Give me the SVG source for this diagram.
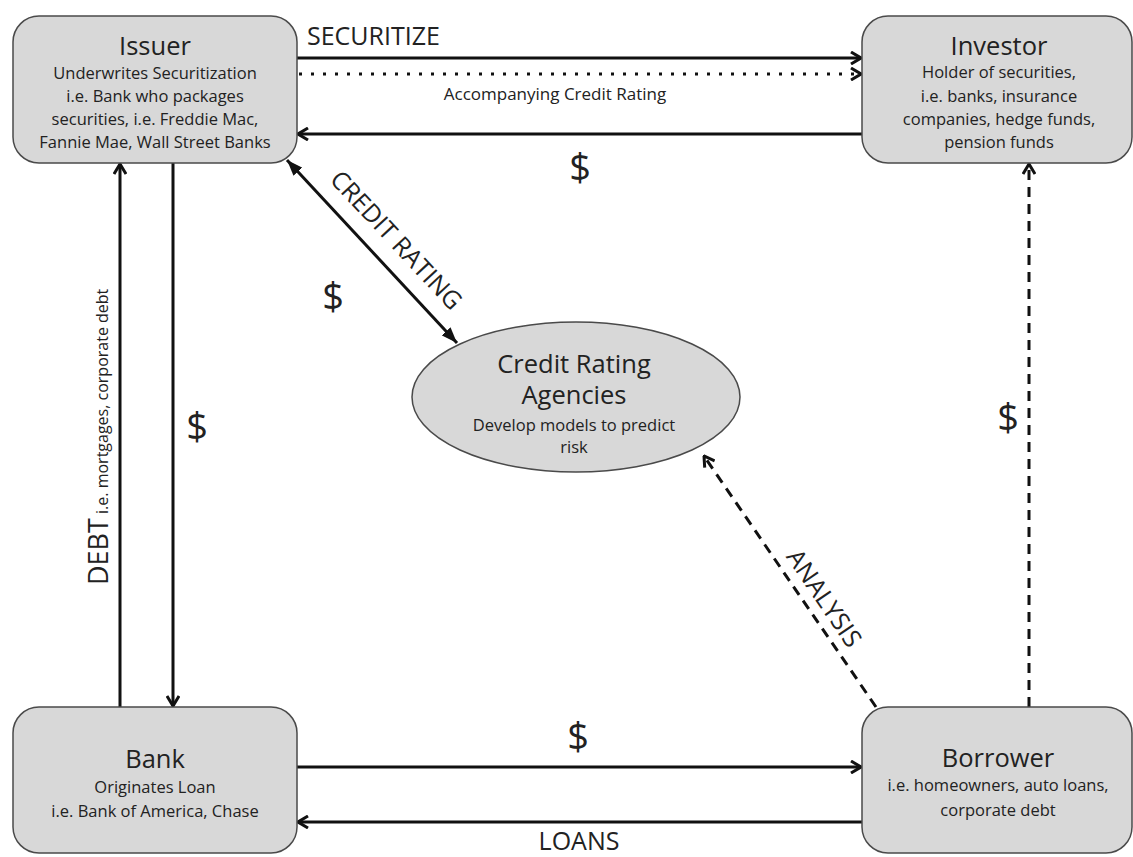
<svg xmlns="http://www.w3.org/2000/svg" width="1133" height="857" viewBox="0 0 1133 857">
  <style>
    .box { fill: #d8d8d8; stroke: #4a4a4a; stroke-width: 1.5; }
    text { font-family: "Open Sans", "Liberation Sans", sans-serif; fill: #222; }
    .t { font-size: 25.5px; text-anchor: middle; }
    .s { font-size: 16.5px; text-anchor: middle; }
    .lbl { font-size: 25px; }
    .dol { font-size: 38px; text-anchor: middle; }
    .ln { stroke: #111; stroke-width: 3; fill: none; }
    .dash { stroke-dasharray: 10 7; }
    .dot { stroke-dasharray: 3 9; }
  </style>
  <defs>
    <marker id="chev" viewBox="0 0 12 14" refX="11" refY="7" markerWidth="12" markerHeight="14" markerUnits="userSpaceOnUse" orient="auto-start-reverse">
      <path d="M1,1 L11,7 L1,13" fill="none" stroke="#111" stroke-width="3"/>
    </marker>
    <marker id="tri" viewBox="0 0 16 12" refX="16" refY="6" markerWidth="16" markerHeight="12" markerUnits="userSpaceOnUse" orient="auto-start-reverse">
      <path d="M0,0 L16,6 L0,12 Z" fill="#111"/>
    </marker>
  </defs>

  <rect width="1133" height="857" fill="#ffffff"/>

  <!-- connectors and their labels -->
  <g id="connectors">
    <line class="ln" x1="297" y1="58" x2="861" y2="58" marker-end="url(#chev)"/>
    <line class="ln dot" x1="299" y1="74" x2="861" y2="74" marker-end="url(#chev)"/>
    <line class="ln" x1="862" y1="134" x2="298" y2="134" marker-end="url(#chev)"/>
    <line class="ln" x1="120" y1="707" x2="120" y2="164" marker-end="url(#chev)"/>
    <line class="ln" x1="173" y1="163" x2="173" y2="706" marker-end="url(#chev)"/>
    <line class="ln" x1="287" y1="160" x2="457" y2="343" stroke-width="2.5" marker-start="url(#tri)" marker-end="url(#tri)"/>
    <line class="ln dash" x1="876" y1="707" x2="704" y2="456" marker-end="url(#chev)"/>
    <line class="ln dash" x1="1029" y1="707" x2="1029" y2="164" marker-end="url(#chev)"/>
    <line class="ln" x1="297" y1="767" x2="861" y2="767" marker-end="url(#chev)"/>
    <line class="ln" x1="862" y1="822" x2="298" y2="822" marker-end="url(#chev)"/>

    <text class="lbl" x="307" y="45">SECURITIZE</text>
    <text x="555" y="100" font-size="17" text-anchor="middle">Accompanying Credit Rating</text>
    <text class="dol" x="580" y="181">$</text>
    <text class="lbl" transform="translate(390,246) rotate(47)" text-anchor="middle" font-size="24">CREDIT RATING</text>
    <text class="dol" x="333" y="310">$</text>
    <text transform="translate(108,585) rotate(-90)"><tspan font-size="27">DEBT</tspan><tspan font-size="16"> i.e. mortgages, corporate debt</tspan></text>
    <text class="dol" x="197" y="440">$</text>
    <text class="lbl" transform="translate(817,603) rotate(55.7)" text-anchor="middle" font-size="23">ANALYSIS</text>
    <text class="dol" x="1008" y="431">$</text>
    <text class="dol" x="578" y="750">$</text>
    <text class="lbl" x="579" y="850" text-anchor="middle" font-size="23">LOANS</text>
  </g>

  <!-- nodes -->
  <g id="issuer">
    <rect class="box" x="13" y="16" width="284" height="147" rx="26"/>
    <text class="t" x="155" y="55">Issuer</text>
    <text class="s" x="155" y="79">Underwrites Securitization</text>
    <text class="s" x="155" y="102">i.e. Bank who packages</text>
    <text class="s" x="155" y="125">securities, i.e. Freddie Mac,</text>
    <text class="s" x="155" y="148">Fannie Mae, Wall Street Banks</text>
  </g>

  <g id="investor">
    <rect class="box" x="862" y="16" width="270" height="147" rx="26"/>
    <text class="t" x="999" y="55">Investor</text>
    <text class="s" x="999" y="78">Holder of securities,</text>
    <text class="s" x="999" y="102">i.e. banks, insurance</text>
    <text class="s" x="999" y="125">companies, hedge funds,</text>
    <text class="s" x="999" y="148">pension funds</text>
  </g>

  <g id="agencies">
    <ellipse class="box" cx="576" cy="397" rx="164" ry="75"/>
    <text class="t" x="574" y="373" font-size="25.5">Credit Rating</text>
    <text class="t" x="574" y="404" font-size="25.5">Agencies</text>
    <text class="s" x="574" y="431">Develop models to predict</text>
    <text class="s" x="574" y="453">risk</text>
  </g>

  <g id="bank">
    <rect class="box" x="13" y="707" width="284" height="146" rx="26"/>
    <text class="t" x="155" y="768">Bank</text>
    <text class="s" x="155" y="793">Originates Loan</text>
    <text class="s" x="155" y="817">i.e. Bank of America, Chase</text>
  </g>

  <g id="borrower">
    <rect class="box" x="862" y="707" width="270" height="146" rx="26"/>
    <text class="t" x="998" y="767">Borrower</text>
    <text class="s" x="998" y="791">i.e. homeowners, auto loans,</text>
    <text class="s" x="998" y="816">corporate debt</text>
  </g>
</svg>
